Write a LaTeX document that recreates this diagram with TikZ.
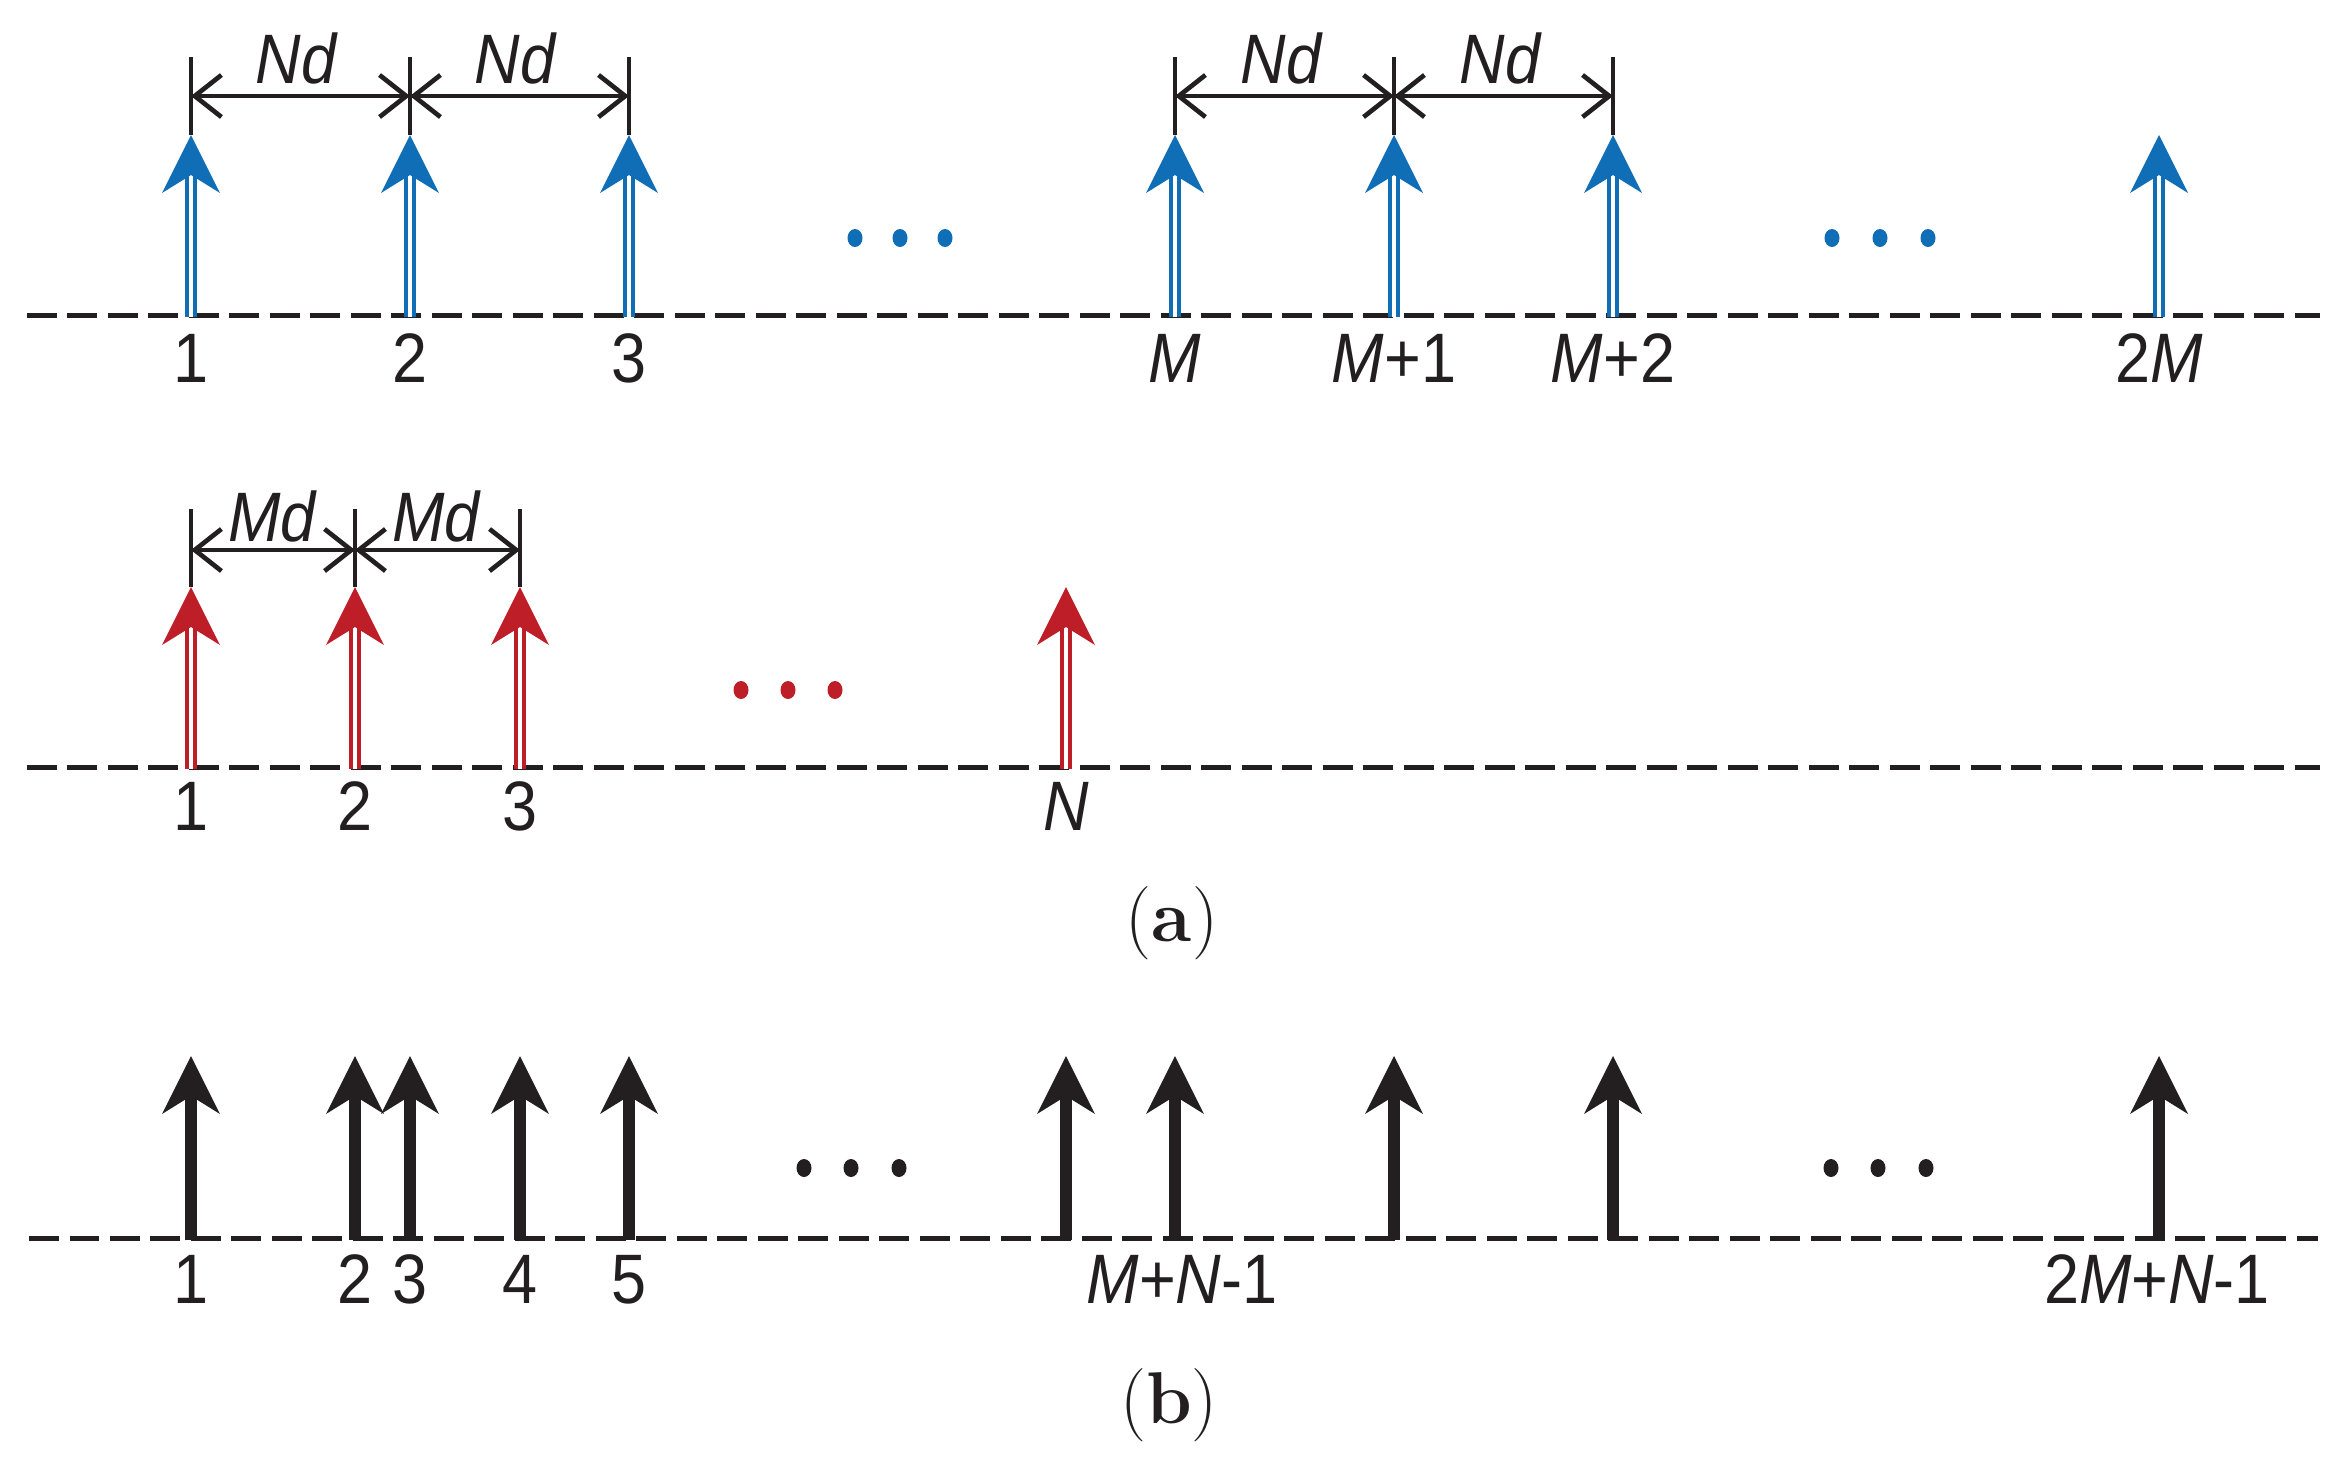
\documentclass[tikz,border=0pt]{standalone}
\usepackage{fontspec}
\newfontfamily\lblfont{Liberation Sans}[FakeStretch=0.9]
\usetikzlibrary{arrows.meta}
\definecolor{myblue}{RGB}{16,110,183}
\definecolor{myred}{RGB}{190,30,40}
\definecolor{myblack}{RGB}{35,31,32}
\newcommand\dblarrow[4]{%
  \coordinate (base) at (#1,#2);
  \coordinate (notch) at (#1,#3+40);
  \draw[#4,double=white,double distance=1pt,line width=1.2pt] (base) -- (notch);
  \fill[#4] (#1,#3) -- (#1+29,#3+58) -- (notch) -- (#1-29,#3+58) -- cycle;}
\newcommand\blkarrow[3]{%
  \coordinate (base) at (#1,#2);
  \coordinate (notch) at (#1,#3+40);
  \draw[myblack,line width=3.6pt] (base) -- (notch);
  \fill[myblack] (#1,#3) -- (#1+29,#3+58) -- (notch) -- (#1-29,#3+58) -- cycle;}
\begin{document}
\begin{tikzpicture}[x=0.3pt,y=-0.3pt,
  axis/.style={myblack,line width=1.5pt,dash pattern=on 9pt off 3.15pt},
  lbl/.style={font=\lblfont\fontsize{21}{25}\selectfont,text=myblack,anchor=base,inner sep=0pt},
  captxt/.style={font=\fontsize{22}{26}\selectfont,text=myblack,anchor=base,inner sep=0pt},
  dimtick/.style={myblack,line width=1.2pt},
  dimline/.style={myblack,line width=1.4pt,{Straight Barb[length=8pt,width=12.6pt]}-{Straight Barb[length=8pt,width=12.6pt]}},
  dotr/.style={x radius=2.25pt,y radius=2.7pt}]
\useasboundingbox (0,0) rectangle (2348,1461);
\fill[white] (0,0) rectangle (2348,1461);

% ---------- top row (blue) ----------
\coordinate (La) at (27,315); \coordinate (Ra) at (2320,315);
\draw[axis] (La) -- (Ra);
\foreach \x in {191,410,629,1175,1394,1613,2159} {\dblarrow{\x}{317}{135}{myblue}}
\foreach \x [count=\i] in {191,410,629,1175,1394,1613} {
  \coordinate (tt\i) at (\x,57); \coordinate (tb\i) at (\x,135);
  \coordinate (td\i) at (\x,96);
  \draw[dimtick] (tt\i) -- (tb\i);}
\draw[dimline] (td1) -- (td2);
\draw[dimline] (td2) -- (td3);
\draw[dimline] (td4) -- (td5);
\draw[dimline] (td5) -- (td6);
\node[lbl] (nd1) at (297,83) {\textit{Nd}};
\node[lbl] (nd2) at (516,83) {\textit{Nd}};
\node[lbl] (nd3) at (1282,83) {\textit{Nd}};
\node[lbl] (nd4) at (1501,83) {\textit{Nd}};
\foreach \x in {855,900,945,1832,1880,1928} {\fill[myblue] (\x,238) ellipse [dotr];}
\node[lbl] (a1) at (191,382) {1};
\node[lbl] (a2) at (410,382) {2};
\node[lbl] (a3) at (629,382) {3};
\node[lbl] (aM) at (1175,382) {\textit{M}};
\node[lbl] (aM1) at (1394,382) {\textit{M}+1};
\node[lbl] (aM2) at (1613,382) {\textit{M}+2};
\node[lbl] (a2M) at (2159,382) {2\textit{M}};

% ---------- middle row (red) ----------
\coordinate (Lb) at (27,767); \coordinate (Rb) at (2320,767);
\draw[axis] (Lb) -- (Rb);
\foreach \x in {191,355,520,1066} {\dblarrow{\x}{769}{587}{myred}}
\foreach \x [count=\i] in {191,355,520} {
  \coordinate (mt\i) at (\x,509); \coordinate (mb\i) at (\x,587);
  \coordinate (md\i) at (\x,550);
  \draw[dimtick] (mt\i) -- (mb\i);}
\draw[dimline] (md1) -- (md2);
\draw[dimline] (md2) -- (md3);
\node[lbl] (md1l) at (273,541) {\textit{Md}};
\node[lbl] (md2l) at (437,541) {\textit{Md}};
\foreach \x in {741,788,835} {\fill[myred] (\x,690) ellipse [dotr];}
\node[lbl] (b1) at (191,830) {1};
\node[lbl] (b2) at (355,830) {2};
\node[lbl] (b3) at (520,830) {3};
\node[lbl] (bN) at (1066,830) {\textit{N}};
\node[captxt] (capa) at (1172,941) {(\textbf{a})};

% ---------- bottom row (black) ----------
\coordinate (Lc) at (29,1238); \coordinate (Rc) at (2318,1238);
\draw[axis] (Lc) -- (Rc);
\foreach \x in {191,355,410,520,629,1066,1175,1394,1613,2159} {\blkarrow{\x}{1240}{1056}}
\foreach \x in {804,851,899,1831,1878,1926} {\fill[myblack] (\x,1168) ellipse [dotr];}
\node[lbl] (c1) at (191,1303) {1};
\node[lbl] (c2) at (355,1303) {2};
\node[lbl] (c3) at (410,1303) {3};
\node[lbl] (c4) at (520,1303) {4};
\node[lbl] (c5) at (629,1303) {5};
\node[lbl] (cMN) at (1182,1303) {\textit{M}+\textit{N}-1};
\node[lbl] (c2MN) at (2157,1303) {2\textit{M}+\textit{N}-1};
\node[captxt] (capb) at (1169,1423) {(\textbf{b})};
\end{tikzpicture}
\end{document}
